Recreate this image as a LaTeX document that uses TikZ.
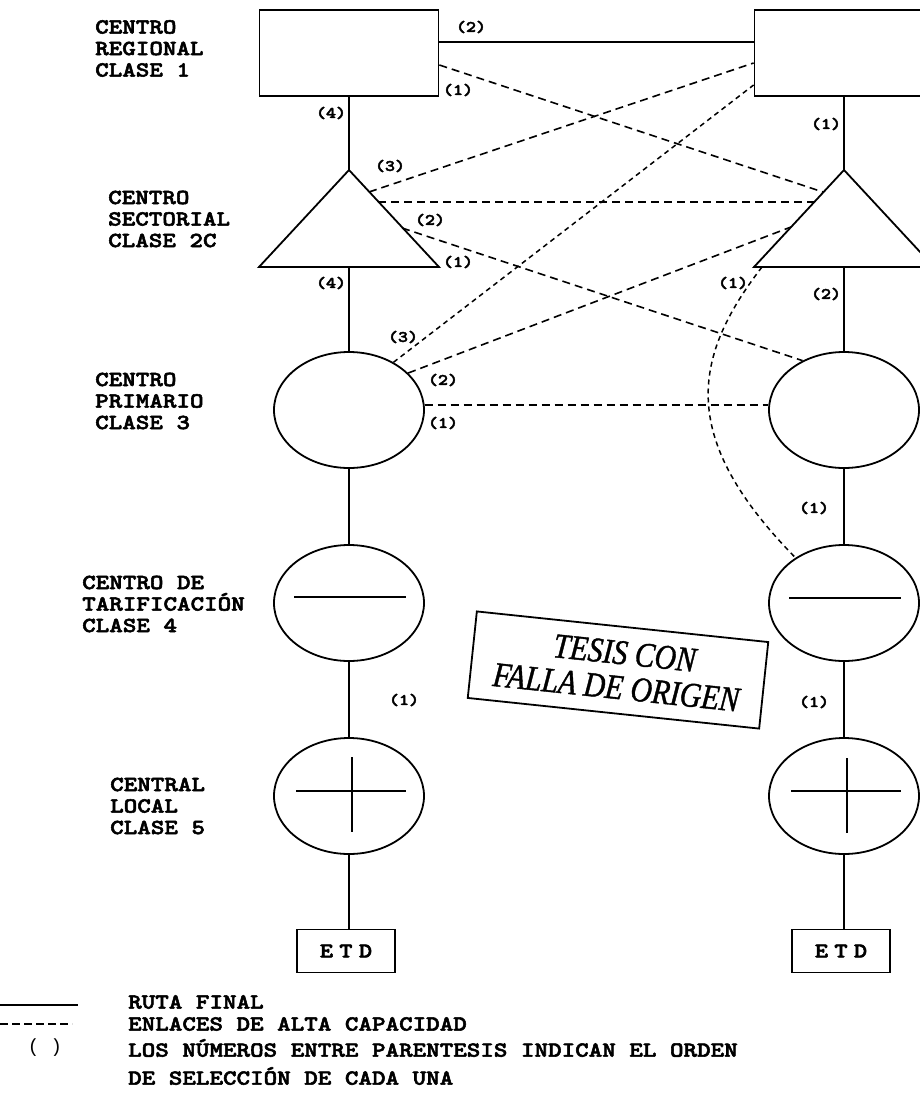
\documentclass[tikz,border=0pt]{standalone}
\usepackage{fontspec}
\usepackage{graphicx}
\setmainfont{Liberation Mono}
\newfontfamily\cour{lmmonolt10-bold.otf}[FakeStretch=1.2,FakeBold=2.5]
\newfontfamily\stampfont{Liberation Serif}[FakeBold=1.2]
\usetikzlibrary{shapes.geometric,calc}
\begin{document}
\begin{tikzpicture}[x=1pt,y=-1pt,
  route/.style={line width=1.8pt},
  hcl/.style={line width=1.6pt, dash pattern=on 8pt off 5pt},
  hcs/.style={line width=1.5pt, dash pattern=on 5pt off 4pt},
  shapeline/.style={line width=1.8pt, line join=miter},
  box/.style={draw, line width=1.8pt, minimum width=179pt, minimum height=86pt, inner sep=0pt},
  oval/.style={draw, ellipse, line width=1.8pt, minimum width=150pt, minimum height=116pt, inner sep=0pt},
  etd/.style={draw, line width=1.8pt, minimum width=98pt, minimum height=43pt, inner sep=0pt,
    font=\cour\fontsize{21}{22}\selectfont\addfontfeature{LetterSpace=30}},
  lvl/.style={anchor=west, align=left, inner sep=0pt, font=\cour\fontsize{21.5}{21.5}\selectfont},
  ord/.style={inner sep=0pt, font=\cour\fontsize{16}{18}\selectfont},
  leg/.style={anchor=west, inner sep=0pt, font=\cour\fontsize{21.5}{22}\selectfont},
]
\path[use as bounding box] (0,0) rectangle (920,1095);
\clip (0,0) rectangle (920,1095);

% level labels
\node[lvl] (t1) at (95,48.5) {CENTRO\\REGIONAL\\CLASE 1};
\node[lvl] (t2) at (108,219) {CENTRO\\SECTORIAL\\CLASE 2C};
\node[lvl] (t3) at (95,401) {CENTRO\\PRIMARIO\\CLASE 3};
\node[lvl] (t4) at (82,604) {CENTRO DE\\TARIFICACIÓN\\CLASE 4};
\node[lvl] (t5) at (110,806) {CENTRAL\\LOCAL\\CLASE 5};

% regional boxes
\node[box] (lb) at (349,53) {};
\node[box] (rb) at (844,53) {};

% triangles
\coordinate (LTa) at (349,170);
\coordinate (LTl) at (259,267);
\coordinate (LTr) at (439,267);
\coordinate (LTb) at (349,267);
\coordinate (RTa) at (844,170);
\coordinate (RTl) at (754,267);
\coordinate (RTr) at (934,267);
\coordinate (RTb) at (844,267);
\draw[shapeline] (LTl) -- (LTa) -- (LTr) -- cycle;
\draw[shapeline] (RTl) -- (RTa) -- (RTr) -- cycle;

% attachment points on triangle sides
\coordinate (lt3) at (369,192);
\coordinate (lth) at (378,202);
\coordinate (lt2) at (402,228);
\coordinate (rt1) at (823,192);
\coordinate (rth) at (814,202);
\coordinate (rt2) at (791,227);
\coordinate (rtc) at (762,267);

% ellipses
\node[oval] (lp) at (349,410) {};
\node[oval] (lq) at (349,603) {};
\node[oval] (ll) at (349,796) {};
\node[oval] (rp) at (844,410) {};
\node[oval] (rq) at (844,603) {};
\node[oval] (rl) at (844,796) {};

% inner marks
\draw[route] ($(lq.center)+(-55,-6)$) -- ($(lq.center)+(57,-6)$);
\draw[route] ($(rq.center)+(-55,-5)$) -- ($(rq.center)+(57,-5)$);
\draw[route] ($(ll.center)+(-53,-5)$) -- ($(ll.center)+(57,-5)$);
\draw[route] ($(ll.center)+(3,-39)$) -- ($(ll.center)+(3,36)$);
\draw[route] ($(rl.center)+(-53,-5)$) -- ($(rl.center)+(57,-5)$);
\draw[route] ($(rl.center)+(3,-38)$) -- ($(rl.center)+(3,37)$);

% ETD
\node[etd] (le) at (346,951) {ETD};
\node[etd] (re) at (841,951) {ETD};

% final route (solid)
\draw[route] (lb.east |- 0,42) -- (rb.west |- 0,42);
\draw[route] (lb.south) -- (LTa);
\draw[route] (rb.south) -- (RTa);
\draw[route] (LTb) -- (lp.north);
\draw[route] (RTb) -- (rp.north);
\draw[route] (lp.south) -- (lq.north);
\draw[route] (rp.south) -- (rq.north);
\draw[route] (lq.south) -- (ll.north);
\draw[route] (rq.south) -- (rl.north);
\draw[route] (ll.south) -- (le.north -| ll.south);
\draw[route] (rl.south) -- (re.north -| rl.south);

% high capacity links (dashed)
\draw[hcl] (lb.east |- 0,65) -- (rt1);
\draw[hcl] (lt3) -- (rb.west |- 0,63);
\draw[hcl] (lth) -- (rth);
\draw[hcl] (lt2) -- (rp.130);
\draw[hcs] (lp.47) -- (rb.west |- 0,85);
\draw[hcl] (lp.32) -- (rt2);
\draw[hcl] (lp.4) -- (rp.176);
\draw[hcs] (rtc) .. controls (690,360) and (680,440) .. (rq.137);

% order labels
\node[ord] (o1) at (471,27) {(2)};
\node[ord] (o2) at (458,90) {(1)};
\node[ord] (o3) at (331,113) {(4)};
\node[ord] (o4) at (826,124) {(1)};
\node[ord] (o5) at (390,166) {(3)};
\node[ord] (o6) at (430,220) {(2)};
\node[ord] (o7) at (458,262) {(1)};
\node[ord] (o8) at (331,283) {(4)};
\node[ord] (o9) at (733,283) {(1)};
\node[ord] (o10) at (826,294) {(2)};
\node[ord] (o11) at (403,337) {(3)};
\node[ord] (o12) at (443,380) {(2)};
\node[ord] (o13) at (443,423) {(1)};
\node[ord] (o14) at (814,508) {(1)};
\node[ord] (o15) at (404,700) {(1)};
\node[ord] (o16) at (814,702) {(1)};

% stamp
\node[draw, line width=1.8pt, rotate=-6, minimum width=293pt, minimum height=87pt, inner sep=0pt,
  align=center, font=\stampfont\itshape\fontsize{35}{35}\selectfont] (stamp) at (618,670)
  {\hspace*{10pt}\scalebox{0.85}[1]{TESIS CON}\\\scalebox{0.85}[1]{FALLA DE ORIGEN}};

% legend
\coordinate (ls0) at (0,1005);
\coordinate (ls1) at (78,1005);
\coordinate (ld0) at (0,1024);
\coordinate (ld1) at (72,1024);
\draw[line width=1.8pt] (ls0) -- (ls1);
\draw[line width=1.6pt, dash pattern=on 8pt off 4pt] (ld0) -- (ld1);
\node[inner sep=0pt, font=\fontsize{19}{20}\selectfont] (lpar) at (45,1048) {( )};
\node[leg] (g1) at (128,1002) {RUTA FINAL};
\node[leg] (g2) at (128,1024) {ENLACES DE ALTA CAPACIDAD};
\node[leg] (g3) at (128,1048) {LOS NÚMEROS ENTRE PARENTESIS INDICAN EL ORDEN};
\node[leg] (g4) at (128,1076) {DE SELECCIÓN DE CADA UNA};
\end{tikzpicture}
\end{document}
